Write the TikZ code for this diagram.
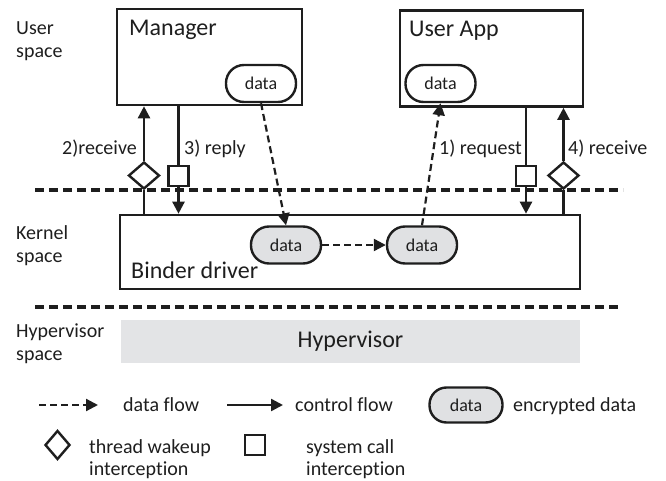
\documentclass[tikz,border=0pt]{standalone}
\usepackage{fontspec}
\setmainfont{Carlito}[Ligatures={NoCommon}]
\usetikzlibrary{arrows.meta,shapes.geometric}
\definecolor{pillgray}{HTML}{E0E1E3}
\definecolor{hvgray}{HTML}{E3E4E6}
\definecolor{ink}{HTML}{1E1E1E}
\tikzset{
  box/.style={draw=ink, line width=2.6pt, inner sep=0pt},
  title/.style={inner sep=0pt, text=ink, font=\fontsize{24}{28}\selectfont},
  pill/.style={draw=ink, fill=white, line width=2.4pt, rounded corners=18pt, minimum width=70pt, minimum height=37pt, inner sep=0pt, text=ink, font=\fontsize{18}{20}\selectfont},
  encpill/.style={pill, fill=pillgray},
  ctrl/.style={draw=ink, line width=2.4pt, -{Triangle[length=12pt,width=12pt]}},
  plain/.style={draw=ink, line width=2.4pt},
  flow/.style={draw=ink, line width=2.2pt, dash pattern=on 7pt off 4pt, -{Triangle[length=12pt,width=12pt]}},
  divider/.style={draw=ink, line width=3.2pt, dash pattern=on 9pt off 5pt},
  wake/.style={diamond, draw=ink, fill=white, line width=2.4pt, inner sep=0pt, minimum width=31pt, minimum height=27pt},
  sysc/.style={rectangle, draw=ink, fill=white, line width=2.4pt, inner sep=0pt, minimum width=20pt, minimum height=20pt},
  lbl/.style={inner sep=0pt, text=ink, font=\fontsize{20}{23}\selectfont},
}
\begin{document}
\begin{tikzpicture}[x=1pt,y=-1pt]
\useasboundingbox (0,0) rectangle (666,481);
% space labels
\node[lbl, anchor=north west, align=left] (us) at (16,21) {User\\space};
\node[lbl, anchor=north west, align=left] (ks) at (16,225) {Kernel\\space};
\node[lbl, anchor=north west, align=left] (hs) at (16,324) {Hypervisor\\space};
% dividers
\coordinate (d1a) at (35,190); \coordinate (d1b) at (623,190);
\coordinate (d2a) at (35,307); \coordinate (d2b) at (621,307);
\draw[divider] (d1a) -- (d1b);
\draw[divider] (d2a) -- (d2b);
% boxes
\node[box, minimum width=185pt, minimum height=96pt] (mgr) at (209.5,57) {};
\node[title, anchor=base west] (mgrt) at (129,36) {Manager};
\node[pill] (mdata) at (261,83.5) {data};
\node[box, minimum width=183pt, minimum height=96pt] (app) at (491.5,58.5) {};
\node[title, anchor=base west] (appt) at (409,37) {User App};
\node[pill] (adata) at (440.5,83.5) {data};
\node[box, minimum width=460pt, minimum height=74pt] (kern) at (350,252) {};
\node[title, anchor=base west] (kernt) at (131,278) {Binder driver};
\node[encpill] (kd1) at (286,245) {data};
\node[encpill] (kd2) at (422,245) {data};
\node[fill=hvgray, minimum width=459pt, minimum height=43pt, inner sep=0pt, text=ink, font=\fontsize{24}{28}\selectfont] (hyp) at (350.5,341.5) {Hypervisor};
% interception markers
\node[wake] (dia1) at (144,175.5) {};
\node[sysc] (sq1) at (178.5,176) {};
\node[sysc] (sq2) at (526,176) {};
\node[wake] (dia2) at (563.5,175.5) {};
% control flows
\draw[plain] (kern.north -| dia1) -- (dia1.south);
\draw[ctrl] (dia1.north) -- (mgr.south -| dia1);
\draw[plain] (mgr.south -| sq1) -- (sq1.north);
\draw[ctrl] (sq1.south) -- (kern.north -| sq1);
\draw[plain] (app.south -| sq2) -- (sq2.north);
\draw[ctrl] (sq2.south) -- (kern.north -| sq2);
\draw[plain] (kern.north -| dia2) -- (dia2.south);
\draw[ctrl] (dia2.north) -- (app.south -| dia2);
% data flows
\draw[flow] (mdata.south) -- (kd1.north);
\draw[flow] (kd1.east) -- (kd2.west);
\draw[flow] (kd2.north) -- (adata.south);
% arrow labels
\node[lbl, anchor=base east] (l2) at (137,155) {2)receive};
\node[lbl, anchor=base west] (l3) at (184,155) {3) reply};
\node[lbl, anchor=base west] (l1) at (439,155) {1) request};
\node[lbl, anchor=base west] (l4) at (568,155) {4) receive};
% legend
\coordinate (ldfa) at (39,405); \coordinate (ldfb) at (98,405);
\draw[flow] (ldfa) -- (ldfb);
\node[lbl, anchor=base west] (ldf) at (123,411) {data flow};
\coordinate (lcfa) at (227,405); \coordinate (lcfb) at (283,405);
\draw[ctrl] (lcfa) -- (lcfb);
\node[lbl, anchor=base west] (lcf) at (295,411) {control flow};
\node[encpill, minimum width=73pt, minimum height=35pt, rounded corners=17pt] (lpill) at (466,405) {data};
\node[lbl, anchor=base west] (led) at (513,411) {encrypted data};
\node[wake, minimum width=25pt, minimum height=29pt] (ldia) at (57.5,445) {};
\node[lbl, anchor=north west, align=left, font=\fontsize{20}{22}\selectfont] (ltw) at (89,439.5) {thread wakeup\\interception};
\node[sysc] (lsq) at (255,445) {};
\node[lbl, anchor=north west, align=left, font=\fontsize{20}{22}\selectfont] (lsc) at (306,439.5) {system call\\interception};
\end{tikzpicture}
\end{document}
